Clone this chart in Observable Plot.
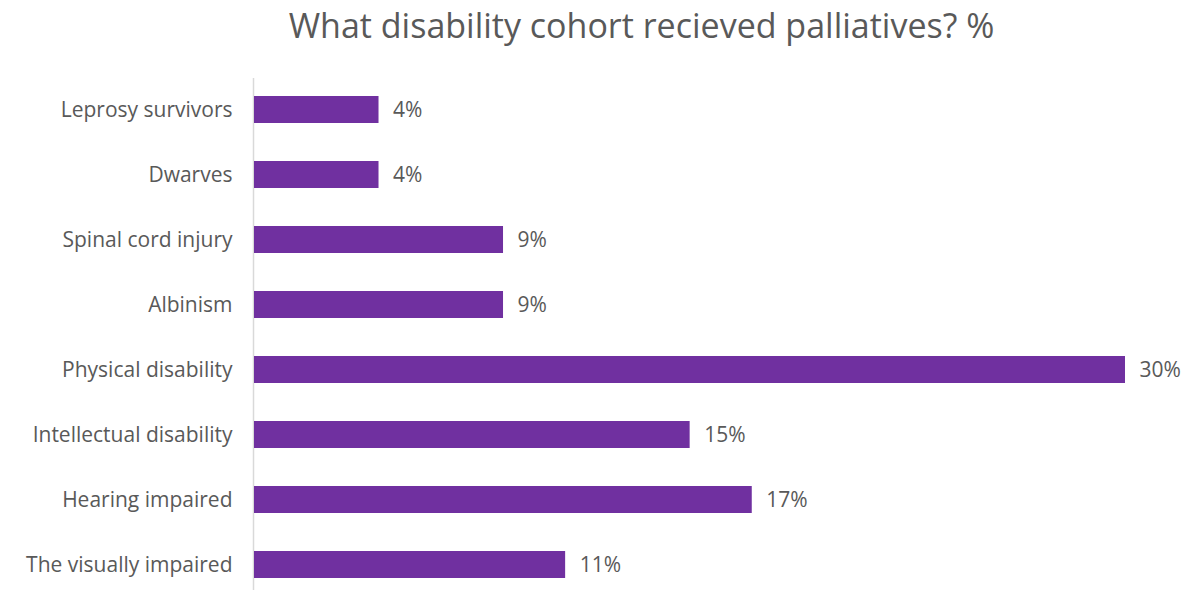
<!DOCTYPE html>
<html>
<head>
<meta charset="utf-8">
<script src="https://cdn.jsdelivr.net/npm/d3@7"></script>
<script src="https://cdn.jsdelivr.net/npm/@observablehq/plot@0.6"></script>
<style>
  html, body { margin: 0; padding: 0; background: #fff; }
  #title { width: 1201px; height: 64px; box-sizing: border-box; padding-left: 82px; padding-top: 0px;
    text-align: center; font-family: "Open Sans", sans-serif; font-size: 34px; color: #595959; line-height: 50px; }
  #chart svg { display: block; }
</style>
</head>
<body>
<div id="title">What disability cohort recieved palliatives? %</div>
<div id="chart"></div>
<script>
const categories = ["Leprosy survivors", "Dwarves", "Spinal cord injury", "Albinism", "Physical disability", "Intellectual disability", "Hearing impaired", "The visually impaired"];
const values = [4.35, 4.35, 8.70, 8.70, 30.43, 15.22, 17.39, 10.87];
const valueLabels = ["4%", "4%", "9%", "9%", "30%", "15%", "17%", "11%"];

const data = categories.map((c, i) => ({category: c, value: values[i], label: valueLabels[i]}));

const chart = Plot.plot({
  width: 1201,
  height: 526,
  marginLeft: 254,
  marginRight: 76,
  marginTop: 14,
  marginBottom: 0,
  style: {fontFamily: "'Open Sans', sans-serif", fontSize: "21px", color: "#595959", background: "#fff"},
  x: {domain: [0, 30.43], axis: null},
  y: {domain: categories, range: [13.5, 533.5], paddingInner: 0.58, paddingOuter: 0.29, label: null},
  marks: [
    Plot.ruleX([0], {stroke: "#d9d9d9", strokeWidth: 1.5, dx: -1}),
    Plot.barX(data, {x: "value", y: "category", fill: "#7030A0"}),
    Plot.text(data, {x: "value", y: "category", text: "label", textAnchor: "start", dx: 14, fontSize: 21, fill: "#595959"}),
    Plot.axisY({tickSize: 0, tickPadding: 22, fontSize: 21, label: null, color: "#595959"})
  ]
});
document.getElementById("chart").appendChild(chart);
</script>
</body>
</html>
